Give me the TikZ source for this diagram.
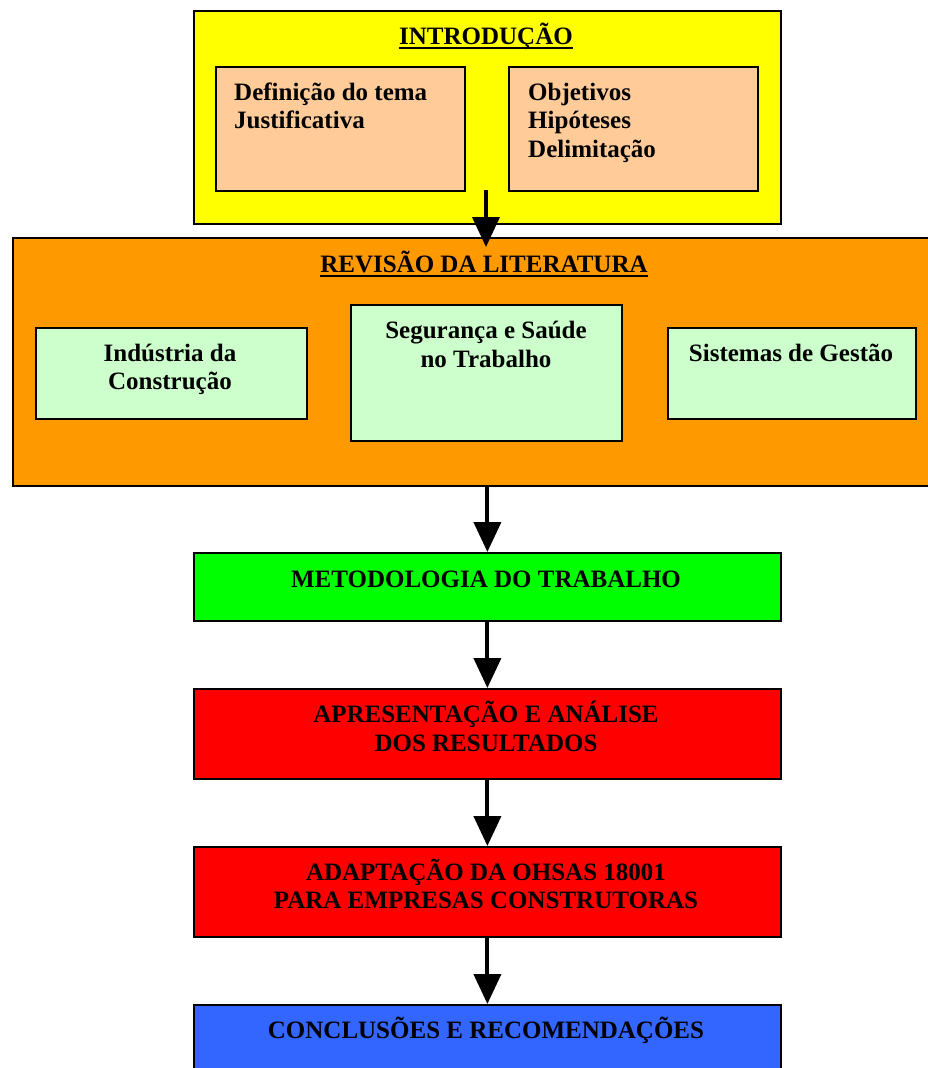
\documentclass[tikz,border=0pt]{standalone}
\usepackage{fontspec}
\setmainfont{Liberation Serif}
\usetikzlibrary{arrows.meta}
\definecolor{cYellow}{HTML}{FFFF00}
\definecolor{cPeach}{HTML}{FFCC99}
\definecolor{cOrange}{HTML}{FF9900}
\definecolor{cMint}{HTML}{CCFFCC}
\definecolor{cGreen}{HTML}{00FF00}
\definecolor{cRed}{HTML}{FF0000}
\definecolor{cBlue}{HTML}{3366FF}
\begin{document}
\begin{tikzpicture}[x=1pt,y=-1pt,
  box/.style={draw=black, line width=1.8pt, inner sep=0pt, anchor=north west},
  lbl/.style={font=\bfseries\fontsize{25}{29}\selectfont, inner sep=0pt, anchor=base},
  lblw/.style={lbl, anchor=base west},
  uline/.style={line width=2.2pt},
  flow/.style={line width=4pt, -{Triangle[length=30pt,width=27pt]}}]
\useasboundingbox (0,0) rectangle (928,1068);

% Introduction block
\node[box, fill=cYellow, minimum width=587pt, minimum height=213pt] (intro) at (193,10) {};
\node[box, fill=cPeach, minimum width=249pt, minimum height=124pt] (def) at (215,66) {};
\node[box, fill=cPeach, minimum width=249pt, minimum height=124pt] (obj) at (508,66) {};
\node[lbl] (introT) at (486,44) {INTRODUÇÃO};
\draw[uline] ([yshift=-4pt]introT.base west) -- ([yshift=-4pt]introT.base east);
\node[lblw] (def1) at (234,100) {Definição do tema};
\node[lblw] (def2) at (234,128) {Justificativa};
\node[lblw] (obj1) at (528,100) {Objetivos};
\node[lblw] (obj2) at (528,128) {Hipóteses};
\node[lblw] (obj3) at (528,157) {Delimitação};

% Literature review block
\node[box, fill=cOrange, minimum width=930pt, minimum height=248pt] (rev) at (12,237) {};
\node[lbl] (revT) at (484,272) {REVISÃO DA LITERATURA};
\draw[uline] ([yshift=-4pt]revT.base west) -- ([yshift=-4pt]revT.base east);
\node[box, fill=cMint, minimum width=271pt, minimum height=91pt] (ind) at (35,327) {};
\node[box, fill=cMint, minimum width=271pt, minimum height=136pt] (sst) at (350,304) {};
\node[box, fill=cMint, minimum width=248pt, minimum height=91pt] (sg) at (667,327) {};
\node[lbl] (ind1) at (170,361) {Indústria da};
\node[lbl] (ind2) at (170,389) {Construção};
\node[lbl] (sst1) at (486,338) {Segurança e Saúde};
\node[lbl] (sst2) at (486,367) {no Trabalho};
\node[lbl] (sg1) at (791,361) {Sistemas de Gestão};

% Main sequence
\node[box, fill=cGreen, minimum width=587pt, minimum height=68pt] (met) at (193,552) {};
\node[lbl] (met1) at (486,587) {METODOLOGIA DO TRABALHO};
\node[box, fill=cRed, minimum width=587pt, minimum height=90pt] (res) at (193,688) {};
\node[lbl] (res1) at (486,722) {APRESENTAÇÃO E ANÁLISE};
\node[lbl] (res2) at (486,751) {DOS RESULTADOS};
\node[box, fill=cRed, minimum width=587pt, minimum height=90pt] (ohs) at (193,846) {};
\node[lbl] (ohs1) at (486,880) {ADAPTAÇÃO DA OHSAS 18001};
\node[lbl] (ohs2) at (486,908) {PARA EMPRESAS CONSTRUTORAS};
\node[box, fill=cBlue, minimum width=587pt, minimum height=90pt] (con) at (193,1004) {};
\node[lbl] (con1) at (486,1038) {CONCLUSÕES E RECOMENDAÇÕES};

% Connectors
\coordinate (a1) at (486,190);
\draw[flow, shorten >=-10pt] (a1) -- (a1 |- rev.north);
\draw[flow] (rev.south -| met.north) -- (met.north);
\draw[flow] (met.south) -- (res.north);
\draw[flow] (res.south) -- (ohs.north);
\draw[flow] (ohs.south) -- (con.north);
\end{tikzpicture}
\end{document}
